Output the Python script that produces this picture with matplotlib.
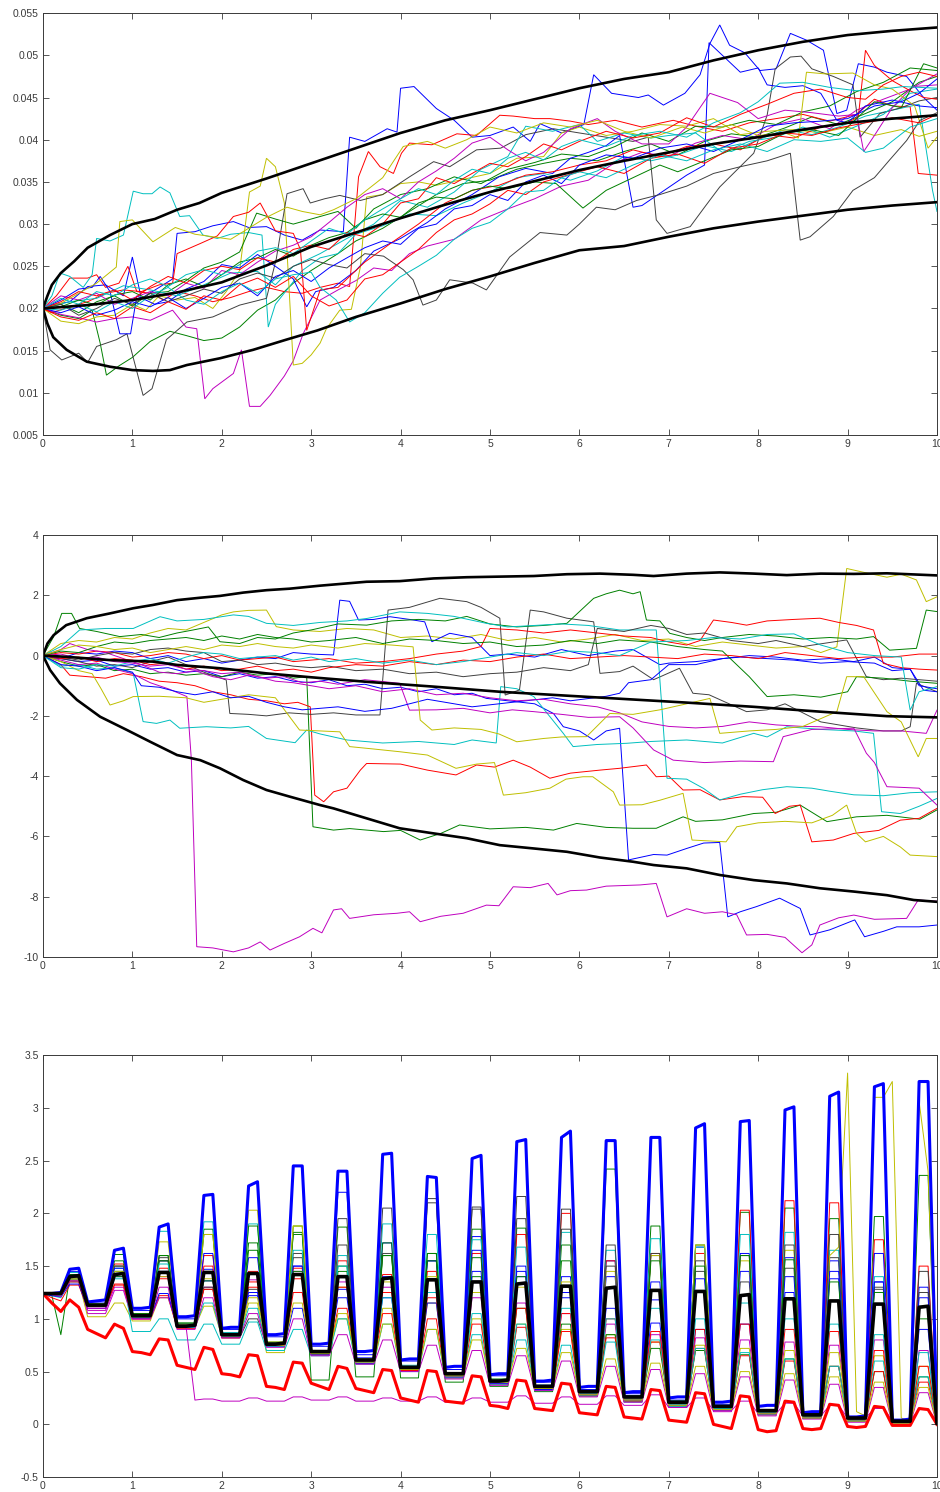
# -*- coding: utf-8 -*-
# Monte Carlo paths for three state variables, each panel with its
# envelope / mean curves drawn in bold on top of the individual runs.
import numpy as np
import matplotlib.pyplot as plt
from matplotlib.ticker import MultipleLocator, FuncFormatter

plt.rcParams['font.family'] = ['Liberation Sans', 'DejaVu Sans']
plt.rcParams['axes.unicode_minus'] = False

# old matlab line colour order
MATLAB = {'b': (0, 0, 1), 'g': (0, 0.5, 0), 'r': (1, 0, 0),
          'c': (0, 0.75, 0.75), 'm': (0.75, 0, 0.75),
          'y': (0.75, 0.75, 0), 'k': (0.25, 0.25, 0.25)}

#%% panel 1 : short rate paths, values in per mille (x 1e-3)
RATE_SCALE = 1e-3

P1_UPPER = [(0, 20.0), (0.05, 21.5), (0.1, 22.8), (0.2, 24.2), (0.35, 25.6), (0.5, 27.2), (0.75, 28.7),
            (1, 30.0), (1.25, 30.6), (1.5, 31.7), (1.75, 32.5), (2, 33.7), (2.5, 35.4), (3, 37.2),
            (3.5, 39.0), (4, 40.8), (4.5, 42.3), (5, 43.5), (5.5, 44.8), (6, 46.1), (6.5, 47.2),
            (7, 48.0), (7.5, 49.4), (8, 50.6), (8.5, 51.6), (9, 52.4), (9.5, 52.9), (10, 53.3)]
P1_MEAN = [(0, 20.0), (0.5, 20.4), (1, 21.0), (1.5, 21.9), (2, 23.1), (2.5, 25.1), (3, 27.3), (3.5, 29.0),
           (4, 30.7), (4.5, 32.3), (5, 33.8), (5.5, 35.1), (6, 36.4), (6.5, 37.5), (7, 38.5),
           (7.5, 39.5), (8, 40.3), (8.5, 41.2), (9, 42.0), (9.5, 42.5), (10, 42.9)]
P1_LOWER = [(0, 20.0), (0.05, 18.2), (0.115, 16.6), (0.265, 15.1), (0.49, 13.7), (0.75, 13.1), (1.0, 12.7),
            (1.23, 12.6), (1.42, 12.7), (1.61, 13.3), (1.98, 14.1), (2.35, 15.1), (2.72, 16.3),
            (3.07, 17.4), (3.5, 19.0), (4.0, 20.6), (4.5, 22.3), (5.0, 23.8), (5.5, 25.4), (6.0, 26.9),
            (6.5, 27.4), (7.0, 28.5), (7.5, 29.5), (8.0, 30.3), (8.5, 31.0), (9.0, 31.7), (9.5, 32.2),
            (10, 32.6)]

P1_PATHS = [
    [(0, 20), (0.1, 20.4), (0.3, 20.8), (0.5, 22.6), (0.7, 22.8), (0.9, 21.5), (1.0, 26.1), (1.1, 21.2),
     (1.3, 22.5), (1.45, 23.5), (1.5, 28.9), (1.7, 29.1), (1.9, 29.8), (2.13, 30.3), (2.3, 29.6),
     (2.5, 29.7), (2.7, 28.7), (2.9, 28.1), (3.1, 29.3), (3.36, 29.1), (3.43, 40.3), (3.6, 39.8),
     (3.85, 41.3), (3.96, 40.9), (4.0, 46.1), (4.15, 46.3), (4.4, 43.7), (4.6, 42.3), (4.8, 40.3),
     (5.0, 40.5), (5.26, 41.5), (5.45, 39.8), (5.56, 41.9), (5.8, 40.8), (6.05, 41.8), (6.16, 47.7),
     (6.36, 45.5), (6.66, 45.0), (6.77, 45.3), (6.94, 44.1), (7.18, 45.5), (7.35, 47.7), (7.46, 51.4),
     (7.57, 53.6), (7.68, 51.2), (7.85, 50.3), (8.02, 48.2), (8.2, 48.4), (8.36, 52.6), (8.54, 51.8),
     (8.73, 50.6), (8.88, 43.1), (8.99, 43.5), (9.12, 49.0), (9.3, 48.6), (9.44, 48.0), (9.66, 47.5),
     (9.85, 45.0), (10, 43.5)],
    [(0, 20), (0.2, 19.2), (0.4, 18.8), (0.55, 19.8), (0.64, 15.9), (0.71, 12.1), (0.85, 13.2), (1.0, 14.2),
     (1.2, 16.1), (1.42, 17.3), (1.6, 16.8), (1.8, 16.2), (2.0, 16.5), (2.2, 17.8), (2.4, 19.8), (2.6, 21.0),
     (2.8, 23.0), (3.0, 24.5), (3.3, 26.5), (3.5, 28.0), (3.8, 29.5), (4.1, 31.5), (4.4, 33.5), (4.7, 34.8),
     (5.0, 35.2), (5.3, 36.5), (5.6, 37.2), (5.9, 37.8), (6.2, 37.5), (6.5, 38.6), (6.8, 39.5), (7.1, 38.2),
     (7.4, 39.8), (7.7, 40.7), (8.0, 40.3), (8.3, 41.4), (8.6, 42.7), (8.9, 41.8), (9.2, 43.1), (9.5, 44.5),
     (9.8, 46.8), (10, 47.5)],
    [(0, 20), (0.15, 21.5), (0.3, 23.6), (0.5, 23.6), (0.6, 24.0), (0.7, 22.5), (0.85, 23.0), (0.95, 25.0),
     (1.05, 22.0), (1.2, 21.8), (1.35, 21.0), (1.5, 22.0), (1.7, 21.5), (1.9, 20.8), (2.1, 21.3), (2.3, 22.0),
     (2.5, 22.5), (2.7, 22.0), (2.9, 21.8), (3.1, 22.5), (3.3, 23.0), (3.43, 22.6), (3.53, 35.6),
     (3.64, 38.6), (3.77, 36.8), (3.92, 36.0), (4.01, 38.4), (4.1, 39.6), (4.35, 39.4), (4.63, 40.7),
     (4.85, 40.5), (5.11, 42.9), (5.26, 42.8), (5.5, 42.5), (5.67, 42.5), (5.9, 42.2), (6.1, 41.8),
     (6.4, 42.3), (6.7, 41.5), (7.05, 42.3), (7.3, 41.6), (7.6, 41.0), (7.9, 42.0), (8.2, 42.5), (8.5, 43.0),
     (8.8, 42.2), (9.1, 43.0), (9.3, 44.8), (9.5, 44.0), (9.7, 43.9), (9.79, 36.0), (10, 35.8)],
    [(0, 20), (0.1, 21.5), (0.19, 24.2), (0.3, 23.8), (0.45, 22.5), (0.55, 24.0), (0.6, 28.3), (0.75, 28.0),
     (0.9, 28.7), (1.01, 33.9), (1.12, 33.6), (1.22, 33.6), (1.31, 34.4), (1.42, 33.7), (1.53, 30.9),
     (1.64, 31.0), (1.79, 28.7), (1.95, 28.3), (2.1, 28.8), (2.3, 29.0), (2.45, 28.7), (2.52, 17.8),
     (2.6, 20.5), (2.75, 22.5), (2.9, 24.5), (3.1, 26.0), (3.3, 26.5), (3.5, 28.8), (3.8, 29.8), (4.1, 31.2),
     (4.4, 31.0), (4.7, 32.5), (5.0, 33.8), (5.3, 35.5), (5.6, 36.0), (5.9, 35.2), (6.2, 36.3), (6.5, 38.0),
     (6.8, 37.5), (7.1, 38.2), (7.4, 39.3), (7.7, 38.6), (8.0, 40.0), (8.3, 41.2), (8.6, 40.6), (8.9, 41.5),
     (9.2, 42.8), (9.5, 43.5), (9.8, 44.2), (9.95, 34.0), (10, 31.5)],
    [(0, 20), (0.2, 19.3), (0.4, 18.9), (0.6, 18.4), (0.8, 18.8), (1.0, 19.0), (1.2, 18.6), (1.45, 19.8),
     (1.6, 17.8), (1.72, 17.6), (1.81, 9.3), (1.9, 10.5), (2.13, 12.3), (2.22, 15.1), (2.31, 8.4),
     (2.43, 8.4), (2.54, 9.7), (2.7, 12.0), (2.8, 13.8), (2.91, 17.0), (3.1, 21.0), (3.3, 22.2), (3.5, 23.3),
     (3.7, 24.8), (3.9, 24.5), (4.1, 26.5), (4.3, 27.4), (4.6, 28.2), (4.9, 30.5), (5.2, 31.8), (5.5, 33.0),
     (5.8, 34.5), (6.1, 35.2), (6.4, 37.3), (6.7, 38.5), (7.0, 38.0), (7.3, 39.6), (7.6, 40.5), (7.9, 40.0),
     (8.2, 41.8), (8.5, 42.5), (8.8, 41.3), (9.1, 43.5), (9.4, 44.8), (9.7, 46.0), (10, 47.8)],
    [(0, 20), (0.2, 18.5), (0.4, 18.2), (0.6, 19.0), (0.8, 19.2), (1.0, 20.5), (1.15, 19.8), (1.3, 21.5),
     (1.5, 21.0), (1.7, 21.3), (1.9, 20.0), (2.05, 22.0), (2.2, 24.5), (2.31, 33.8), (2.43, 34.5),
     (2.5, 37.8), (2.6, 36.8), (2.7, 32.5), (2.8, 13.3), (2.9, 13.5), (3.0, 14.5), (3.1, 15.9), (3.17, 17.6),
     (3.32, 19.8), (3.45, 19.9), (3.55, 24.9), (3.62, 33.2), (3.8, 33.5), (4.0, 34.8), (4.2, 35.0),
     (4.4, 34.6), (4.7, 35.3), (5.0, 36.0), (5.3, 37.8), (5.6, 38.0), (5.8, 40.8), (6.0, 41.5), (6.3, 40.5),
     (6.6, 41.0), (6.9, 41.8), (7.2, 41.6), (7.5, 42.5), (7.8, 40.6), (8.1, 41.0), (8.4, 41.2), (8.7, 40.8),
     (9.0, 41.5), (9.3, 40.5), (9.6, 41.2), (9.8, 40.4), (10, 41.0)],
    [(0, 20), (0.08, 15.1), (0.21, 13.9), (0.4, 14.7), (0.5, 13.6), (0.6, 15.5), (0.82, 16.3), (0.94, 17.0),
     (1.12, 9.7), (1.22, 10.5), (1.38, 16.3), (1.61, 18.4), (1.9, 19.0), (2.2, 20.4), (2.5, 21.2),
     (2.61, 25.9), (2.73, 33.6), (2.91, 34.2), (2.99, 32.5), (3.15, 33.0), (3.32, 33.4), (3.55, 32.8),
     (3.8, 33.5), (4.1, 35.6), (4.37, 37.4), (4.55, 36.8), (4.85, 38.8), (5.12, 39.0), (5.4, 40.6),
     (5.71, 41.3), (6.0, 40.8), (6.3, 40.3), (6.6, 39.8), (6.77, 40.3), (6.86, 30.5), (6.98, 28.9),
     (7.24, 29.7), (7.4, 32.0), (7.57, 34.4), (7.95, 38.4), (8.1, 42.9), (8.19, 48.4), (8.36, 49.8),
     (8.48, 49.9), (8.6, 48.4), (8.84, 47.5), (9.06, 46.5), (9.14, 40.3), (9.36, 43.1), (9.6, 43.8),
     (9.8, 44.6), (10, 45.0)],
    [(0, 20), (0.2, 21.0), (0.4, 22.3), (0.55, 22.5), (0.64, 23.8), (0.75, 22.0), (0.86, 17.0), (0.98, 17.0),
     (1.05, 21.5), (1.25, 20.5), (1.4, 20.8), (1.6, 22.3), (1.8, 23.2), (2.0, 25.2), (2.2, 24.8), (2.4, 26.4),
     (2.6, 25.0), (2.8, 23.5), (2.95, 20.2), (3.05, 22.0), (3.25, 22.5), (3.5, 24.5), (3.7, 26.8),
     (4.0, 28.3), (4.3, 30.2), (4.5, 31.8), (4.8, 33.5), (5.1, 35.6), (5.4, 36.6), (5.7, 36.0), (5.9, 37.8),
     (6.1, 38.5), (6.3, 39.3), (6.45, 40.5), (6.6, 32.0), (6.7, 32.2), (6.95, 34.0), (7.2, 35.8),
     (7.4, 37.0), (7.45, 51.5), (7.6, 50.0), (7.8, 48.0), (8.0, 48.5), (8.1, 46.5), (8.3, 46.2),
     (8.5, 46.4), (8.7, 45.5), (8.88, 42.3), (9.0, 42.0), (9.2, 44.0), (9.5, 44.7), (9.8, 44.0),
     (10, 43.8)],
    [(0, 20), (0.2, 20.5), (0.4, 19.5), (0.6, 20.8), (0.8, 21.5), (1.0, 20.3), (1.2, 21.8), (1.4, 22.0),
     (1.6, 23.3), (1.8, 24.8), (2.0, 25.5), (2.2, 26.7), (2.39, 31.3), (2.6, 30.6), (2.8, 30.0), (3.1, 30.9),
     (3.3, 31.5), (3.5, 29.5), (3.7, 31.8), (4.0, 33.5), (4.3, 34.2), (4.6, 35.6), (4.9, 34.8), (5.2, 36.5),
     (5.5, 37.3), (5.8, 38.3), (6.1, 38.0), (6.4, 39.2), (6.7, 40.8), (7.0, 39.8), (7.3, 41.6), (7.6, 41.5),
     (7.9, 42.3), (8.2, 41.8), (8.5, 43.3), (8.8, 44.0), (9.1, 45.7), (9.4, 46.8), (9.7, 48.5),
     (10, 48.2)],
    [(0, 20), (0.1, 19.5), (0.3, 20.2), (0.5, 20.8), (0.7, 21.8), (0.9, 22.2), (1.1, 22.0), (1.3, 22.8),
     (1.45, 23.0), (1.5, 26.5), (1.76, 27.7), (1.95, 28.6), (2.13, 30.9), (2.3, 31.4), (2.43, 32.5),
     (2.6, 29.2), (2.8, 28.9), (2.88, 27.0), (2.95, 17.4), (3.1, 22.2), (3.3, 22.5), (3.6, 25.5),
     (3.9, 27.8), (4.2, 30.0), (4.5, 32.5), (4.8, 34.0), (5.1, 34.6), (5.4, 35.8), (5.7, 36.2), (6.0, 37.0),
     (6.3, 37.5), (6.6, 38.8), (6.9, 38.0), (7.2, 39.2), (7.5, 39.5), (7.8, 38.8), (8.1, 40.6), (8.4, 40.2),
     (8.7, 41.5), (9.0, 42.0), (9.12, 42.7), (9.2, 50.6), (9.3, 48.8), (9.5, 47.0), (9.7, 45.8),
     (9.85, 45.0), (10, 44.8)],
    [(0, 20), (0.3, 20.8), (0.6, 21.2), (0.9, 22.7), (1.2, 22.2), (1.5, 21.5), (1.8, 22.8), (2.1, 24.2),
     (2.4, 24.4), (2.6, 22.8), (2.8, 25.0), (3.1, 26.5), (3.4, 28.3), (3.7, 30.0), (4.0, 32.8), (4.3, 32.0),
     (4.6, 33.8), (4.9, 36.5), (5.2, 38.0), (5.4, 41.6), (5.7, 41.0), (6.0, 41.8), (6.2, 39.8), (6.5, 40.8),
     (6.8, 40.2), (7.0, 40.5), (7.3, 40.8), (7.6, 38.5), (7.9, 39.8), (8.2, 40.3), (8.5, 41.5), (8.8, 40.3),
     (9.1, 41.6), (9.4, 43.0), (9.7, 45.5), (10, 46.0)],
    [(0, 20), (0.2, 21.5), (0.4, 21.0), (0.6, 21.8), (0.8, 20.5), (1.0, 21.2), (1.2, 22.0), (1.4, 21.5),
     (1.6, 23.0), (1.8, 22.4), (2.0, 24.5), (2.2, 24.0), (2.4, 25.5), (2.6, 26.8), (2.8, 27.5), (3.0, 28.5),
     (3.2, 30.2), (3.4, 32.0), (3.6, 33.5), (3.8, 34.2), (4.0, 33.0), (4.2, 35.0), (4.4, 36.3), (4.6, 37.8),
     (4.8, 39.6), (5.0, 40.3), (5.2, 38.8), (5.4, 37.5), (5.6, 38.5), (5.9, 41.3), (6.2, 42.5), (6.4, 41.0),
     (6.7, 39.5), (7.0, 39.5), (7.2, 41.5), (7.46, 45.5), (7.77, 44.4), (8.0, 42.5), (8.3, 43.5),
     (8.6, 43.2), (8.9, 42.8), (9.1, 43.0), (9.18, 38.6), (9.3, 40.5), (9.5, 43.8), (9.73, 46.3),
     (10, 46.5)],
    [(0, 20), (0.2, 20.6), (0.4, 21.8), (0.6, 23.0), (0.82, 24.9), (0.86, 30.3), (1.0, 30.5), (1.23, 27.9),
     (1.48, 29.6), (1.7, 28.8), (1.9, 28.5), (2.1, 28.2), (2.3, 29.5), (2.5, 30.8), (2.73, 32.0), (2.9, 31.5),
     (3.1, 31.1), (3.25, 31.7), (3.5, 33.0), (3.8, 35.5), (4.03, 39.2), (4.3, 39.8), (4.5, 39.0),
     (4.74, 40.0), (5.0, 41.5), (5.3, 40.8), (5.6, 42.0), (5.9, 41.5), (6.2, 42.3), (6.5, 41.0), (6.8, 40.2),
     (7.15, 41.5), (7.4, 40.8), (7.7, 41.8), (8.0, 40.5), (8.3, 40.8), (8.45, 40.2), (8.54, 48.0),
     (8.75, 47.8), (9.06, 47.9), (9.3, 46.5), (9.5, 46.0), (9.75, 44.0), (9.9, 39.0), (10, 40.3)],
    [(0, 20), (0.2, 20.5), (0.4, 19.2), (0.6, 20.0), (0.8, 21.2), (1.0, 20.5), (1.2, 21.8), (1.4, 20.8),
     (1.6, 21.5), (1.8, 22.3), (2.0, 21.8), (2.2, 23.5), (2.4, 24.2), (2.6, 23.6), (2.8, 25.0), (3.0, 25.8),
     (3.2, 25.2), (3.4, 24.8), (3.6, 26.5), (3.81, 26.2), (4.03, 24.6), (4.14, 23.4), (4.25, 20.4),
     (4.4, 21.0), (4.55, 23.4), (4.81, 23.0), (4.96, 22.2), (5.22, 26.1), (5.56, 29.0), (5.86, 28.7),
     (6.0, 30.0), (6.19, 32.0), (6.4, 31.7), (6.64, 32.8), (6.9, 33.5), (7.2, 34.5), (7.5, 36.0),
     (7.8, 36.8), (8.1, 37.5), (8.36, 38.4), (8.47, 28.1), (8.58, 28.5), (8.84, 30.9), (9.06, 34.0),
     (9.3, 35.5), (9.47, 37.6), (9.66, 39.9), (9.81, 42.3), (10, 43.2)],
    [(0, 20), (0.2, 19.5), (0.4, 20.2), (0.6, 19.2), (0.8, 19.8), (1.0, 20.8), (1.2, 20.2), (1.4, 21.3),
     (1.6, 20.0), (1.8, 21.2), (2.0, 22.5), (2.2, 23.0), (2.4, 21.5), (2.6, 23.8), (2.8, 24.5), (3.0, 23.2),
     (3.2, 24.8), (3.4, 26.0), (3.6, 27.2), (3.8, 28.0), (4.0, 27.6), (4.2, 29.5), (4.4, 30.0), (4.6, 31.8),
     (4.8, 32.2), (5.0, 33.5), (5.2, 32.8), (5.4, 35.0), (5.6, 35.8), (5.8, 34.8), (6.0, 37.0), (6.3, 38.2),
     (6.6, 37.8), (6.9, 39.0), (7.2, 39.5), (7.5, 38.6), (7.8, 40.0), (8.1, 41.6), (8.4, 42.0), (8.7, 42.2),
     (9.0, 42.5), (9.3, 44.0), (9.6, 44.5), (9.8, 45.5), (10, 47.2)],
    [(0, 20), (0.2, 20.2), (0.4, 21.0), (0.6, 20.4), (0.8, 21.6), (1.0, 22.0), (1.2, 21.0), (1.4, 22.8),
     (1.6, 23.5), (1.8, 22.6), (2.0, 24.0), (2.2, 25.5), (2.4, 26.0), (2.6, 27.0), (2.8, 26.2), (3.0, 27.5),
     (3.2, 28.4), (3.4, 29.0), (3.6, 30.5), (3.8, 31.2), (4.0, 30.8), (4.2, 32.5), (4.4, 33.2), (4.6, 33.0),
     (4.8, 34.0), (5.0, 34.5), (5.2, 34.2), (5.5, 35.0), (5.74, 34.8), (6.04, 31.9), (6.3, 34.0),
     (6.6, 35.5), (6.9, 37.0), (7.1, 36.2), (7.4, 37.5), (7.7, 38.8), (8.0, 39.2), (8.3, 40.8), (8.6, 41.2),
     (8.9, 40.5), (9.1, 42.5), (9.3, 44.5), (9.6, 43.8), (9.85, 49.0), (10, 48.5)],
    [(0, 20), (0.2, 19.0), (0.4, 18.6), (0.6, 19.5), (0.8, 18.8), (1.0, 20.2), (1.2, 19.5), (1.4, 20.8),
     (1.6, 19.9), (1.8, 21.5), (2.0, 21.0), (2.2, 22.8), (2.4, 23.6), (2.6, 22.5), (2.8, 23.8), (3.0, 21.5),
     (3.2, 20.3), (3.4, 21.0), (3.6, 23.5), (3.8, 24.0), (4.0, 25.5), (4.2, 27.0), (4.4, 29.0), (4.6, 30.5),
     (4.8, 31.2), (5.0, 32.4), (5.2, 34.0), (5.4, 33.5), (5.6, 35.0), (5.8, 35.6), (6.0, 36.2), (6.2, 36.8),
     (6.5, 36.0), (6.8, 37.8), (7.1, 38.3), (7.4, 37.2), (7.7, 39.0), (8.0, 39.5), (8.3, 40.8), (8.6, 40.5),
     (8.9, 41.4), (9.2, 42.0), (9.5, 42.6), (9.8, 42.0), (10, 43.0)],
    [(0, 20), (0.2, 19.8), (0.4, 20.5), (0.6, 19.6), (0.8, 20.8), (1.0, 20.0), (1.2, 21.5), (1.4, 22.5),
     (1.6, 21.0), (1.8, 20.5), (2.0, 22.0), (2.2, 23.0), (2.4, 21.8), (2.6, 23.5), (2.8, 24.0), (3.0, 24.3),
     (3.1, 22.5), (3.28, 21.0), (3.43, 18.4), (3.6, 19.5), (3.8, 21.8), (3.99, 23.7), (4.2, 25.0),
     (4.4, 26.3), (4.6, 28.2), (4.8, 29.5), (5.0, 30.2), (5.2, 31.8), (5.4, 33.8), (5.6, 34.0), (5.8, 35.5),
     (6.0, 36.2), (6.3, 35.5), (6.6, 37.0), (6.9, 38.2), (7.2, 37.5), (7.5, 38.8), (7.8, 39.5), (8.1, 38.6),
     (8.4, 40.0), (8.7, 39.8), (9.0, 40.2), (9.2, 38.5), (9.4, 39.0), (9.7, 41.5), (10, 42.5)],
    [(0, 20), (0.2, 20.8), (0.4, 22.0), (0.6, 21.5), (0.8, 22.2), (1.0, 21.0), (1.2, 22.6), (1.4, 23.8),
     (1.6, 23.0), (1.8, 24.5), (2.0, 25.0), (2.2, 24.6), (2.4, 26.0), (2.6, 25.5), (2.8, 27.0), (3.0, 27.5),
     (3.2, 27.0), (3.4, 29.0), (3.6, 28.5), (3.8, 30.0), (4.0, 32.5), (4.2, 33.0), (4.4, 35.5), (4.6, 34.8),
     (4.8, 36.0), (5.0, 37.2), (5.2, 36.8), (5.4, 38.0), (5.6, 39.5), (5.8, 38.8), (6.0, 39.8), (6.3, 41.0),
     (6.6, 40.2), (6.9, 40.8), (7.2, 42.6), (7.5, 41.5), (7.8, 43.0), (8.1, 44.2), (8.4, 45.5), (8.7, 46.0),
     (9.0, 45.0), (9.2, 44.8), (9.4, 46.5), (9.6, 47.5), (9.8, 48.0), (10, 47.5)],
    [(0, 20), (0.2, 21.2), (0.4, 20.5), (0.6, 22.0), (0.8, 21.5), (1.0, 22.8), (1.2, 23.5), (1.4, 22.6),
     (1.6, 24.0), (1.8, 24.6), (2.0, 24.0), (2.2, 25.2), (2.4, 26.8), (2.6, 27.2), (2.8, 26.5), (3.0, 28.0),
     (3.2, 29.5), (3.4, 28.8), (3.6, 30.5), (3.8, 31.8), (4.0, 33.0), (4.2, 34.2), (4.4, 33.5), (4.6, 35.2),
     (4.8, 36.5), (5.0, 36.0), (5.2, 37.8), (5.4, 38.5), (5.6, 37.6), (5.8, 39.2), (6.0, 40.0), (6.3, 39.2),
     (6.6, 40.5), (6.9, 41.0), (7.2, 40.3), (7.5, 42.0), (7.8, 43.2), (8.0, 44.5), (8.24, 46.7),
     (8.5, 46.8), (8.8, 46.2), (9.1, 45.8), (9.4, 46.0), (9.62, 46.3), (10, 46.1)],
]
P1_COLORS = ['b', 'g', 'r', 'c', 'm', 'y', 'k', 'b', 'g', 'r',
             'c', 'm', 'y', 'k', 'b', 'g', 'r', 'c', 'r', 'c']

#%% panel 2 : log-price paths with jumps
P2_UPPER = [(0, 0), (0.05, 0.4), (0.12, 0.68), (0.26, 1.01), (0.49, 1.24), (0.75, 1.40), (1.01, 1.57),
            (1.23, 1.68), (1.5, 1.84), (1.76, 1.92), (1.98, 1.98), (2.24, 2.09), (2.5, 2.17), (2.76, 2.22),
            (3.1, 2.32), (3.62, 2.45), (3.99, 2.47), (4.37, 2.56), (4.74, 2.6), (5.11, 2.62), (5.49, 2.64),
            (5.86, 2.7), (6.23, 2.72), (6.6, 2.68), (6.83, 2.64), (7.2, 2.72), (7.57, 2.76), (7.95, 2.72),
            (8.32, 2.67), (8.7, 2.72), (9.07, 2.71), (9.44, 2.73), (10, 2.66)]
P2_MEAN = [(0, 0), (0.26, -0.04), (0.75, -0.15), (1.23, -0.2), (1.5, -0.31), (1.98, -0.42), (2.5, -0.59),
           (3.0, -0.72), (3.62, -0.87), (4.37, -1.03), (5.11, -1.2), (5.86, -1.33), (6.5, -1.44),
           (7.2, -1.56), (7.95, -1.7), (8.69, -1.86), (9.44, -2.01), (10, -2.05)]
P2_LOWER = [(0, 0), (0.08, -0.48), (0.19, -0.92), (0.38, -1.47), (0.64, -2.03), (0.94, -2.47), (1.2, -2.86),
            (1.5, -3.3), (1.76, -3.47), (1.98, -3.74), (2.24, -4.13), (2.5, -4.46), (2.76, -4.68),
            (3.1, -4.96), (3.25, -5.07), (3.62, -5.4), (3.99, -5.73), (4.37, -5.9), (4.74, -6.06),
            (5.11, -6.29), (5.49, -6.4), (5.86, -6.51), (6.23, -6.7), (6.6, -6.84), (6.83, -6.95),
            (7.2, -7.06), (7.57, -7.28), (7.95, -7.45), (8.32, -7.56), (8.69, -7.72), (9.07, -7.83),
            (9.44, -7.95), (9.74, -8.11), (10, -8.17)]

P2_PATHS = [
    [(0, 0), (0.2, -0.1), (0.4, -0.2), (0.6, -0.15), (0.8, -0.35), (1.0, -0.3), (1.2, -0.45), (1.4, -0.4),
     (1.6, -0.55), (1.8, -0.5), (2.0, -0.7), (2.2, -0.6), (2.4, -0.75), (2.6, -0.7), (2.8, -0.85),
     (3.0, -0.9), (3.2, -0.8), (3.4, -1.0), (3.6, -0.95), (3.8, -1.1), (4.0, -1.05), (4.2, -1.2),
     (4.4, -1.1), (4.6, -1.3), (4.8, -1.25), (4.96, -1.42), (5.2, -1.5), (5.5, -1.6), (5.71, -1.92),
     (5.82, -2.36), (6.0, -2.5), (6.16, -2.8), (6.3, -2.5), (6.45, -2.41), (6.55, -6.78), (6.83, -6.6),
     (6.98, -6.62), (7.2, -6.4), (7.39, -6.22), (7.57, -6.2), (7.66, -8.67), (7.8, -8.5), (7.98, -8.33),
     (8.24, -8.05), (8.47, -8.39), (8.58, -9.27), (8.8, -9.1), (9.08, -8.77), (9.19, -9.33),
     (9.4, -9.15), (9.55, -9.0), (9.8, -9.0), (10, -8.94)],
    [(0, 0), (0.2, -0.2), (0.4, -0.35), (0.6, -0.3), (0.8, -0.5), (1.0, -0.45), (1.2, -0.6), (1.4, -0.55),
     (1.6, -0.65), (1.8, -0.6), (2.0, -0.7), (2.2, -0.55), (2.4, -0.65), (2.6, -0.6), (2.8, -0.75),
     (2.95, -0.7), (3.02, -5.68), (3.25, -5.79), (3.43, -5.74), (3.81, -5.84), (4.0, -5.8),
     (4.22, -6.12), (4.45, -5.9), (4.66, -5.62), (5.0, -5.75), (5.4, -5.7), (5.71, -5.79), (5.97, -5.57),
     (6.3, -5.7), (6.6, -5.73), (6.86, -5.73), (7.16, -5.35), (7.3, -5.5), (7.6, -5.45), (7.95, -5.24),
     (8.2, -5.2), (8.47, -4.96), (8.77, -5.51), (9.1, -5.35), (9.44, -5.3), (9.81, -5.43), (10, -5.12)],
    [(0, 0), (0.2, -0.3), (0.3, -0.65), (0.5, -0.7), (0.7, -0.75), (0.9, -0.6), (1.1, -0.7), (1.3, -0.85),
     (1.5, -0.9), (1.7, -1.0), (1.9, -1.2), (2.1, -1.3), (2.3, -1.45), (2.5, -1.5), (2.7, -1.6),
     (2.85, -1.55), (2.99, -1.7), (3.04, -4.63), (3.14, -4.85), (3.25, -4.52), (3.4, -4.4),
     (3.55, -3.8), (3.62, -3.58), (4.0, -3.6), (4.3, -3.8), (4.62, -3.96), (4.85, -3.63), (5.05, -3.7),
     (5.26, -3.47), (5.45, -3.7), (5.67, -4.07), (5.9, -3.9), (6.23, -3.8), (6.45, -3.74), (6.75, -3.63),
     (6.86, -4.02), (7.0, -4.0), (7.16, -4.46), (7.35, -4.45), (7.57, -4.79), (7.83, -4.68),
     (8.05, -4.7), (8.19, -5.24), (8.35, -5.0), (8.47, -4.96), (8.6, -6.18), (8.84, -6.12), (9.07, -5.9),
     (9.35, -5.8), (9.59, -5.46), (9.8, -5.4), (10, -5.07)],
    [(0, 0), (0.2, -0.35), (0.4, -0.3), (0.6, -0.45), (0.8, -0.4), (1.01, -0.59), (1.12, -2.19),
     (1.27, -2.25), (1.42, -2.14), (1.53, -2.41), (1.83, -2.36), (2.1, -2.4), (2.3, -2.35), (2.5, -2.75),
     (2.82, -2.89), (2.95, -2.47), (3.1, -2.6), (3.4, -2.8), (3.8, -2.9), (4.2, -2.85), (4.6, -2.95),
     (4.8, -2.8), (5.07, -2.9), (5.12, -1.03), (5.3, -1.1), (5.49, -1.36), (5.82, -2.58), (5.93, -3.02),
     (6.2, -2.95), (6.53, -2.91), (6.8, -2.85), (7.2, -2.8), (7.6, -2.9), (7.95, -2.58), (8.1, -2.7),
     (8.32, -2.36), (8.7, -2.45), (9.07, -2.5), (9.29, -2.58), (9.38, -5.18), (9.59, -5.24),
     (9.8, -5.0), (10, -4.74)],
    [(0, 0), (0.2, -0.15), (0.4, -0.3), (0.6, -0.25), (0.8, -0.45), (1.0, -0.6), (1.2, -0.9), (1.4, -1.1),
     (1.61, -1.36), (1.66, -3.46), (1.72, -9.66), (1.9, -9.7), (2.13, -9.83), (2.3, -9.7), (2.43, -9.5),
     (2.54, -9.77), (2.7, -9.55), (2.87, -9.33), (3.02, -9.05), (3.12, -9.2), (3.25, -8.44),
     (3.34, -8.4), (3.43, -8.72), (3.7, -8.6), (3.96, -8.55), (4.1, -8.5), (4.22, -8.83), (4.45, -8.65),
     (4.7, -8.55), (4.96, -8.28), (5.1, -8.3), (5.26, -7.67), (5.45, -7.7), (5.65, -7.56), (5.75, -7.94),
     (5.9, -7.8), (6.08, -7.78), (6.3, -7.65), (6.68, -7.61), (6.86, -7.56), (6.98, -8.67), (7.2, -8.4),
     (7.4, -8.55), (7.6, -8.5), (7.76, -8.6), (7.87, -9.27), (8.1, -9.25), (8.3, -9.35), (8.49, -9.86),
     (8.6, -9.6), (8.69, -8.94), (8.9, -8.7), (9.07, -8.61), (9.3, -8.75), (9.66, -8.72), (9.79, -8.11),
     (10, -8.15)],
    [(0, 0), (0.2, 0.4), (0.4, 0.5), (0.6, 0.45), (0.8, 0.6), (1.0, 0.55), (1.2, 0.75), (1.4, 0.9),
     (1.6, 0.85), (1.8, 1.1), (2.0, 1.35), (2.13, 1.45), (2.3, 1.5), (2.5, 1.51), (2.61, 0.96),
     (2.8, 0.85), (3.1, 0.8), (3.4, 0.9), (3.7, 0.85), (4.0, 0.6), (4.3, 0.65), (4.6, 0.55), (4.9, 0.7),
     (5.2, 0.5), (5.5, 0.6), (5.8, 0.45), (6.1, 0.55), (6.4, 0.7), (6.7, 0.5), (7.0, 0.55), (7.3, 0.3),
     (7.6, 0.45), (7.9, 0.35), (8.2, 0.25), (8.5, 0.3), (8.7, 0.1), (8.88, 0.29), (8.99, 2.89),
     (9.2, 2.75), (9.44, 2.6), (9.6, 2.7), (9.77, 2.51), (9.88, 1.79), (10, 1.95)],
    [(0, 0), (0.2, -0.1), (0.4, -0.2), (0.6, -0.35), (0.8, -0.3), (1.0, -0.4), (1.2, -0.2), (1.4, -0.05),
     (1.6, -0.3), (1.8, -0.55), (2.05, -0.81), (2.09, -1.92), (2.3, -1.95), (2.5, -2.0), (2.75, -1.9),
     (3.0, -1.95), (3.25, -1.9), (3.5, -1.97), (3.77, -1.97), (3.86, 1.51), (4.1, 1.6), (4.44, 1.9),
     (4.74, 1.79), (4.9, 1.6), (5.11, 1.24), (5.17, -1.31), (5.33, -1.14), (5.45, 1.51), (5.6, 1.45),
     (5.86, 1.24), (6.16, 1.12), (6.23, -0.59), (6.45, -0.53), (6.6, -0.35), (6.83, -0.8), (7.12, -0.42),
     (7.27, -1.25), (7.45, -1.3), (7.6, -1.5), (7.87, -1.86), (8.1, -1.8), (8.3, -1.6), (8.5, -1.9),
     (8.7, -2.2), (8.9, -2.3), (9.1, -2.4), (9.4, -2.5), (9.6, -2.5), (9.7, -2.36), (9.77, -0.92),
     (10, -1.2)],
    [(0, 0), (0.2, -0.1), (0.4, 0.1), (0.6, 0.05), (0.8, 0.15), (1.0, 0.1), (1.2, -0.1), (1.4, 0.0),
     (1.6, -0.2), (1.8, -0.1), (2.0, -0.25), (2.2, -0.15), (2.4, -0.05), (2.6, -0.1), (2.8, 0.1),
     (3.0, 0.05), (3.25, 0.02), (3.32, 1.84), (3.43, 1.8), (3.53, 1.18), (3.7, 1.2), (3.88, 1.29),
     (4.1, 1.2), (4.27, 1.12), (4.35, 0.46), (4.55, 0.74), (4.8, 0.6), (5.0, 0.0), (5.2, 0.05),
     (5.5, -0.05), (5.8, 0.2), (6.1, 0.0), (6.4, 0.15), (6.6, 0.2), (6.9, -0.3), (7.0, -0.25), (7.3, -0.2),
     (7.6, -0.1), (7.9, 0.0), (8.2, -0.05), (8.5, -0.15), (8.8, -0.1), (9.07, -0.2), (9.3, -0.05),
     (9.5, -0.4), (9.7, -0.45), (9.8, -1.0), (10, -1.1)],
    [(0, 0), (0.12, 0.63), (0.21, 1.4), (0.32, 1.4), (0.41, 0.9), (0.6, 0.8), (0.86, 0.63), (1.1, 0.7),
     (1.3, 0.6), (1.5, 0.75), (1.68, 0.85), (1.85, 0.95), (1.98, 0.46), (2.2, 0.4), (2.4, 0.6), (2.6, 0.55),
     (2.8, 0.75), (3.0, 0.85), (3.3, 1.05), (3.62, 1.01), (3.9, 1.15), (4.2, 1.2), (4.5, 1.15),
     (4.74, 1.3), (5.0, 1.05), (5.3, 0.95), (5.6, 1.0), (5.86, 1.07), (6.16, 1.9), (6.3, 2.05),
     (6.45, 2.17), (6.6, 2.05), (6.68, 2.12), (6.75, 1.18), (6.9, 1.15), (7.01, 0.74), (7.2, 0.6),
     (7.4, 0.5), (7.6, 0.6), (7.9, 0.7), (8.2, 0.65), (8.5, 0.55), (8.8, 0.6), (9.1, 0.55), (9.29, 0.63),
     (9.47, 0.18), (9.77, 0.24), (9.88, 1.51), (10, 1.46)],
    [(0, 0), (0.2, 0.1), (0.4, 0.05), (0.6, 0.15), (0.8, 0.1), (1.0, -0.05), (1.2, 0.0), (1.4, 0.1),
     (1.6, 0.05), (1.8, -0.1), (2.0, 0.0), (2.2, -0.15), (2.4, -0.1), (2.6, -0.05), (2.8, -0.2),
     (3.0, -0.15), (3.2, -0.1), (3.5, -0.25), (3.8, -0.2), (4.1, -0.1), (4.4, 0.05), (4.7, 0.15),
     (4.9, 0.3), (5.0, 0.9), (5.3, 0.85), (5.6, 0.75), (5.9, 0.85), (6.2, 0.75), (6.5, 0.65), (6.8, 0.6),
     (7.0, 0.45), (7.2, 0.35), (7.35, 0.5), (7.5, 1.18), (7.7, 1.1), (7.87, 1.01), (8.1, 1.15),
     (8.4, 1.2), (8.69, 1.24), (8.9, 1.1), (9.1, 1.0), (9.29, 0.85), (9.4, -0.26), (9.6, -0.4),
     (9.8, -0.45), (10, -0.48)],
    [(0, 0), (0.2, 0.3), (0.41, 0.85), (0.7, 0.9), (1.01, 0.9), (1.31, 1.29), (1.5, 1.15), (1.8, 1.2),
     (2.13, 1.35), (2.3, 1.3), (2.5, 1.07), (2.8, 1.0), (3.1, 1.1), (3.4, 1.15), (3.62, 1.23), (3.99, 1.45),
     (4.3, 1.4), (4.6, 1.3), (4.96, 1.07), (5.2, 0.95), (5.5, 1.0), (5.8, 1.05), (6.1, 1.0), (6.45, 0.85),
     (6.86, 0.85), (6.98, -4.07), (7.2, -4.1), (7.39, -4.41), (7.57, -4.79), (7.8, -4.6), (8.05, -4.45),
     (8.32, -4.35), (8.6, -4.4), (8.8, -4.5), (9.07, -4.62), (9.4, -4.65), (9.7, -4.55), (10, -4.52)],
    [(0, 0), (0.2, 0.2), (0.3, 0.4), (0.5, 0.2), (0.7, 0.1), (0.9, -0.1), (1.1, -0.3), (1.3, -0.55),
     (1.5, -0.6), (1.7, -0.5), (1.9, -0.7), (2.1, -0.8), (2.3, -0.65), (2.5, -0.75), (2.7, -0.7),
     (2.9, -0.9), (3.1, -0.85), (3.3, -0.95), (3.6, -0.8), (3.99, -0.92), (4.1, -1.81), (4.4, -1.8),
     (4.7, -1.75), (5.0, -1.9), (5.25, -1.8), (5.49, -1.86), (5.8, -1.95), (6.1, -2.05), (6.45, -2.03),
     (6.6, -2.4), (6.83, -3.13), (7.05, -3.47), (7.4, -3.55), (7.8, -3.5), (8.17, -3.52), (8.28, -2.69),
     (8.6, -2.45), (9.07, -2.41), (9.21, -3.24), (9.3, -3.55), (9.44, -4.35), (9.8, -4.4), (10, -4.96)],
    [(0, 0), (0.2, -0.2), (0.4, -0.5), (0.55, -0.6), (0.65, -1.1), (0.75, -1.64), (0.9, -1.5),
     (1.01, -1.36), (1.3, -1.35), (1.6, -1.4), (1.8, -1.55), (2.0, -1.45), (2.3, -1.3), (2.6, -1.4),
     (2.87, -2.47), (3.1, -2.5), (3.32, -2.53), (3.43, -3.02), (3.7, -3.1), (3.99, -3.19), (4.3, -3.3),
     (4.62, -3.74), (4.85, -3.6), (5.05, -3.55), (5.15, -4.63), (5.4, -4.55), (5.67, -4.4), (5.85, -4.1),
     (6.04, -4.02), (6.15, -4.02), (6.38, -4.52), (6.45, -4.96), (6.7, -4.95), (6.9, -4.8),
     (7.16, -4.57), (7.26, -6.12), (7.64, -6.18), (7.76, -5.68), (8.0, -5.55), (8.3, -5.5),
     (8.6, -5.55), (8.83, -5.3), (8.99, -4.96), (9.1, -5.9), (9.2, -6.18), (9.4, -6.0), (9.59, -6.35),
     (9.7, -6.62), (10, -6.67)],
    [(0, 0), (0.2, -0.05), (0.4, -0.15), (0.6, 0.0), (0.8, 0.1), (1.0, 0.05), (1.2, 0.2), (1.4, 0.25),
     (1.6, 0.15), (1.8, 0.1), (2.0, -0.2), (2.2, -0.15), (2.4, -0.3), (2.6, -0.25), (2.8, -0.35),
     (3.0, -0.4), (3.2, -0.35), (3.5, -0.5), (3.8, -0.45), (4.1, -0.6), (4.4, -0.55), (4.7, -0.7),
     (5.0, -0.6), (5.3, -0.55), (5.6, -0.4), (5.9, -0.5), (6.1, -0.3), (6.2, 0.9), (6.5, 0.8), (6.8, 1.0),
     (7.0, 0.9), (7.2, 0.7), (7.4, 0.75), (7.7, 0.5), (8.0, 0.4), (8.2, 0.5), (8.5, 0.3), (8.99, 0.52),
     (9.21, -0.7), (9.4, -0.8), (9.6, -0.75), (9.8, -0.8), (10, -0.85)],
    [(0, 0), (0.2, -0.3), (0.4, -0.35), (0.6, -0.5), (0.8, -0.4), (1.0, -0.55), (1.1, -1.0), (1.3, -1.05),
     (1.5, -1.2), (1.7, -1.3), (1.9, -1.2), (2.1, -1.4), (2.3, -1.35), (2.5, -1.55), (2.7, -1.7),
     (2.9, -1.8), (3.1, -1.75), (3.3, -1.7), (3.6, -1.85), (3.9, -1.75), (4.1, -1.6), (4.3, -1.45),
     (4.5, -1.55), (4.8, -1.7), (5.1, -1.6), (5.4, -1.5), (5.7, -1.4), (5.9, -1.5), (6.3, -1.35),
     (6.45, -1.25), (6.55, -0.9), (6.8, -0.8), (7.0, -0.3), (7.3, -0.3), (7.6, -0.1), (7.8, -0.05),
     (8.1, -0.1), (8.4, -0.15), (8.7, -0.25), (9.0, -0.2), (9.3, -0.25), (9.5, -0.5), (9.7, -0.45),
     (9.85, -1.15), (10, -1.2)],
    [(0, 0), (0.2, 0.15), (0.4, 0.1), (0.6, 0.3), (0.8, 0.45), (1.0, 0.4), (1.2, 0.5), (1.4, 0.55),
     (1.6, 0.6), (1.8, 0.5), (2.0, 0.65), (2.2, 0.55), (2.4, 0.7), (2.6, 0.6), (2.8, 0.55), (3.0, 0.45),
     (3.2, 0.5), (3.5, 0.6), (3.8, 0.4), (4.1, 0.55), (4.4, 0.5), (4.7, 0.4), (5.0, 0.45), (5.3, 0.3),
     (5.6, 0.35), (5.9, 0.5), (6.2, 0.4), (6.45, 0.52), (6.8, 0.45), (7.1, 0.3), (7.4, 0.2), (7.6, 0.15),
     (7.9, -0.7), (8.1, -1.36), (8.4, -1.3), (8.7, -1.38), (9.0, -1.2), (9.1, -0.7), (9.4, -0.75),
     (9.7, -0.85), (10, -0.92)],
    [(0, 0), (0.2, -0.1), (0.4, -0.05), (0.6, -0.2), (0.8, -0.1), (1.0, -0.15), (1.2, -0.3), (1.4, -0.25),
     (1.6, -0.45), (1.8, -0.35), (2.0, -0.5), (2.2, -0.45), (2.4, -0.35), (2.6, -0.5), (2.8, -0.45),
     (3.0, -0.55), (3.2, -0.4), (3.5, -0.3), (3.8, -0.35), (4.1, -0.2), (4.4, -0.3), (4.7, -0.15),
     (5.0, -0.2), (5.3, -0.05), (5.6, 0.05), (5.9, -0.1), (6.2, -0.05), (6.5, 0.0), (6.8, -0.05),
     (7.1, -0.1), (7.4, 0.05), (7.7, 0.0), (8.0, -0.1), (8.3, 0.1), (8.6, 0.0), (8.9, -0.1), (9.2, -0.05),
     (9.5, -0.05), (9.8, 0.05), (10, 0.05)],
    [(0, 0), (0.2, -0.4), (0.4, -0.45), (0.6, -0.3), (0.8, -0.35), (1.0, -0.2), (1.2, -0.1), (1.4, -0.25),
     (1.6, -0.05), (1.8, 0.1), (2.0, 0.05), (2.2, -0.1), (2.4, -0.05), (2.6, 0.0), (2.8, -0.15),
     (3.0, -0.05), (3.2, -0.2), (3.5, -0.1), (3.8, -0.25), (4.1, -0.15), (4.4, -0.3), (4.7, -0.2),
     (5.0, -0.05), (5.3, 0.1), (5.6, 0.0), (5.9, 0.15), (6.2, 0.1), (6.45, 0.0), (6.8, 0.45), (7.2, 0.5),
     (7.5, 0.6), (7.8, 0.55), (8.1, 0.7), (8.4, 0.72), (8.7, 0.35), (9.0, 0.1), (9.3, 0.0), (9.6, -0.05),
     (9.7, -1.81), (9.8, -1.2), (10, -1.03)],
    [(0, 0), (0.2, 0.05), (0.4, -0.1), (0.6, -0.05), (0.8, -0.2), (1.0, -0.25), (1.2, -0.35), (1.4, -0.3),
     (1.6, -0.45), (1.8, -0.5), (2.0, -0.6), (2.2, -0.55), (2.4, -0.7), (2.6, -0.85), (2.8, -0.9),
     (3.0, -1.0), (3.2, -1.1), (3.5, -1.0), (3.8, -1.2), (4.1, -1.1), (4.4, -1.3), (4.7, -1.25),
     (5.0, -1.4), (5.3, -1.5), (5.6, -1.45), (5.9, -1.6), (6.2, -1.7), (6.45, -1.9), (6.7, -2.2),
     (7.0, -2.35), (7.3, -2.4), (7.6, -2.35), (7.9, -2.2), (8.2, -2.3), (8.5, -2.35), (8.69, -2.36),
     (9.0, -2.45), (9.3, -2.5), (9.6, -2.5), (9.88, -2.58), (10, -1.81)],
    [(0, 0), (0.2, 0.2), (0.4, 0.35), (0.6, 0.3), (0.8, 0.2), (1.0, 0.25), (1.2, 0.1), (1.4, 0.2),
     (1.6, 0.3), (1.8, 0.2), (2.0, 0.35), (2.2, 0.3), (2.4, 0.4), (2.6, 0.3), (2.8, 0.25), (3.0, 0.35),
     (3.3, 0.25), (3.6, 0.4), (3.9, 0.35), (4.14, 0.29), (4.22, -2.14), (4.35, -2.47), (4.6, -2.4),
     (4.9, -2.45), (5.1, -2.6), (5.3, -2.86), (5.6, -2.75), (5.8, -2.7), (6.08, -2.69), (6.34, -1.92),
     (6.6, -1.95), (6.9, -1.8), (7.2, -1.6), (7.46, -1.42), (7.57, -2.58), (7.9, -2.5), (8.2, -2.45),
     (8.5, -2.35), (8.88, -1.86), (8.99, -0.70), (9.18, -0.70), (9.44, -1.86), (9.6, -2.2),
     (9.79, -3.36), (9.88, -2.75), (10, -2.75)],
]
P2_COLORS = ['b', 'g', 'r', 'c', 'm', 'y', 'k', 'b', 'g', 'r',
             'c', 'm', 'y', 'k', 'b', 'g', 'r', 'c', 'm', 'y']

#%% panel 3 : pulsed variance paths, sampled every 0.1
# each run: three start samples, then per cycle two high samples and three low samples
N_SAMPLES = 101
T_GRID = np.linspace(0, 10, N_SAMPLES)

BLUE_START = [1.24, 1.24, 1.25]
BLUE_PEAKS = [(1.47, 1.48), (1.65, 1.67), (1.87, 1.90), (2.17, 2.18), (2.26, 2.30), (2.45, 2.45),
              (2.40, 2.40), (2.56, 2.57), (2.35, 2.34), (2.52, 2.55), (2.68, 2.70), (2.72, 2.78),
              (2.69, 2.69), (2.72, 2.72), (2.81, 2.85), (2.87, 2.88), (2.98, 3.01), (3.11, 3.15),
              (3.20, 3.23), (3.25, 3.25)]
BLUE_TROUGHS = [(1.16, 1.17, 1.18), (1.10, 1.10, 1.11), (1.02, 1.02, 1.03), (0.91, 0.92, 0.92),
                (0.85, 0.85, 0.86), (0.76, 0.76, 0.77), (0.69, 0.69, 0.70), (0.61, 0.62, 0.62),
                (0.54, 0.55, 0.55), (0.47, 0.48, 0.48), (0.41, 0.41, 0.42), (0.35, 0.36, 0.36),
                (0.30, 0.31, 0.31), (0.25, 0.26, 0.26), (0.21, 0.21, 0.22), (0.17, 0.18, 0.18),
                (0.11, 0.12, 0.12), (0.07, 0.07, 0.08), (0.04, 0.04, 0.05), (0.02,)]

BLACK_START = [1.24, 1.24, 1.24]
BLACK_PEAKS = [(1.40, 1.41), (1.42, 1.43), (1.44, 1.44), (1.44, 1.44), (1.43, 1.43), (1.42, 1.42),
               (1.40, 1.40), (1.38, 1.39), (1.37, 1.37), (1.35, 1.35), (1.33, 1.34), (1.31, 1.31),
               (1.29, 1.30), (1.27, 1.27), (1.26, 1.26), (1.22, 1.23), (1.19, 1.19), (1.17, 1.17),
               (1.14, 1.14), (1.11, 1.12)]
BLACK_TROUGHS = [(1.13, 1.13, 1.13), (1.03, 1.03, 1.03), (0.93, 0.93, 0.94), (0.85, 0.85, 0.85),
                 (0.76, 0.76, 0.77), (0.69, 0.69, 0.69), (0.61, 0.61, 0.61), (0.54, 0.54, 0.54),
                 (0.48, 0.48, 0.48), (0.41, 0.41, 0.42), (0.36, 0.36, 0.36), (0.31, 0.31, 0.31),
                 (0.26, 0.26, 0.26), (0.21, 0.21, 0.21), (0.17, 0.17, 0.17), (0.13, 0.13, 0.13),
                 (0.09, 0.09, 0.09), (0.06, 0.06, 0.06), (0.03, 0.03, 0.03), (0.01,)]

RED_START = [1.24, 1.15, 1.07]
RED_PEAKS = [(1.18, 1.11), (0.95, 0.91), (0.81, 0.80), (0.73, 0.71), (0.66, 0.65), (0.59, 0.58),
             (0.55, 0.53), (0.52, 0.51), (0.51, 0.50), (0.46, 0.45), (0.42, 0.41), (0.39, 0.38),
             (0.36, 0.35), (0.33, 0.32), (0.30, 0.29), (0.27, 0.26), (0.22, 0.21), (0.19, 0.18),
             (0.17, 0.16), (0.15, 0.14)]
RED_TROUGHS = [(0.90, 0.86, 0.82), (0.69, 0.68, 0.66), (0.56, 0.54, 0.52), (0.48, 0.47, 0.45),
               (0.36, 0.35, 0.33), (0.39, 0.36, 0.33), (0.34, 0.32, 0.30), (0.25, 0.23, 0.21),
               (0.22, 0.21, 0.20), (0.18, 0.17, 0.15), (0.15, 0.14, 0.13), (0.11, 0.10, 0.09),
               (0.07, 0.06, 0.05), (0.04, 0.03, 0.02), (0.0, -0.02, -0.04), (-0.05, -0.07, -0.06),
               (-0.04, -0.05, -0.04), (-0.02, -0.03, -0.02), (-0.01, -0.01, -0.01), (0.0,)]

P3_START = [
    [1.24, 1.24, 1.25], [1.24, 1.22, 0.85], [1.24, 1.23, 1.22], [1.24, 1.24, 1.23], [1.24, 1.23, 1.22],
    [1.24, 1.23, 1.22], [1.24, 1.24, 1.24], [1.24, 1.24, 1.24], [1.24, 1.24, 1.23], [1.24, 1.20, 1.17],
    [1.24, 1.22, 1.20], [1.24, 1.23, 1.22], [1.24, 1.24, 1.24], [1.24, 1.24, 1.24], [1.24, 1.22, 1.21],
    [1.24, 1.24, 1.24], [1.24, 1.23, 1.23], [1.24, 1.23, 1.22], [1.24, 1.23, 1.21], [1.24, 1.24, 1.23],
]
P3_PEAKS = [
    [1.45, 1.50, 1.55, 1.47, 1.58, 1.50, 2.20, 1.72, 1.55, 1.78, 1.45, 1.40, 1.55, 1.35, 1.68, 1.62, 1.58, 1.55, 1.35, 1.30],
    [1.40, 1.61, 1.60, 1.85, 1.72, 1.80, 1.87, 1.72, 1.62, 1.85, 1.86, 1.70, 2.42, 1.88, 1.70, 2.01, 2.05, 1.95, 1.97, 2.36],
    [1.38, 1.52, 1.48, 1.60, 1.45, 1.48, 1.55, 1.42, 1.45, 1.62, 1.80, 2.00, 1.55, 1.62, 1.62, 2.03, 2.12, 2.10, 1.75, 1.50],
    [1.44, 1.48, 1.83, 1.92, 1.90, 1.88, 1.60, 1.90, 1.80, 1.75, 1.68, 1.82, 1.65, 1.76, 1.68, 1.80, 1.82, 1.65, 1.40, 1.12],
    [1.36, 1.27, 1.40, 1.30, 1.37, 1.45, 1.35, 1.30, 1.25, 1.20, 1.15, 1.05, 0.95, 0.85, 0.82, 0.80, 0.78, 0.75, 0.80, 0.70],
    [1.36, 1.15, 1.20, 1.12, 1.15, 1.88, 1.00, 1.10, 1.15, 1.00, 0.95, 0.90, 0.85, 0.78, 0.75, 0.72, 0.70, 0.68, 0.65, 0.55],
    [1.39, 1.45, 1.55, 1.28, 1.00, 1.62, 1.95, 2.05, 2.10, 2.04, 2.16, 2.04, 1.70, 1.60, 1.45, 1.35, 1.48, 1.58, 1.28, 1.25],
    [1.37, 1.40, 1.45, 1.36, 1.22, 1.50, 1.20, 1.40, 1.55, 1.65, 1.40, 1.20, 1.40, 1.18, 1.38, 1.45, 1.40, 1.38, 1.62, 1.20],
    [1.42, 1.55, 1.60, 1.80, 1.65, 1.82, 1.45, 1.60, 1.55, 1.40, 1.10, 0.95, 0.85, 0.72, 0.70, 0.66, 0.62, 0.55, 0.50, 0.45],
    [1.32, 1.33, 1.22, 1.50, 1.30, 1.25, 1.10, 1.05, 1.00, 0.95, 0.92, 0.88, 0.82, 0.78, 0.72, 0.65, 0.60, 0.55, 0.50, 0.40],
    [1.35, 1.38, 1.00, 0.95, 0.97, 0.90, 1.00, 0.95, 0.90, 0.85, 0.80, 0.75, 0.78, 0.80, 0.72, 0.68, 0.62, 0.55, 0.60, 0.45],
    [1.38, 1.30, 1.20, 0.24, 0.25, 0.26, 0.26, 0.25, 0.26, 0.25, 0.27, 0.26, 0.27, 0.28, 0.25, 0.22, 0.20, 0.18, 0.15, 0.14],
    [1.37, 1.50, 1.73, 1.80, 2.03, 1.88, 1.30, 1.35, 1.40, 1.25, 1.30, 1.35, 1.45, 1.60, 1.70, 1.55, 1.65,
     (1.60, 1.68), (3.10, 3.10), (3.06, 2.40)],
    [1.40, 1.50, 1.58, 1.30, 1.28, 1.58, 1.70, 1.62, 2.14, 2.06, 1.95, 1.85, 1.50, 1.62, 1.55, 1.60, 1.70, 1.80, 1.30, 1.45],
    [1.33, 1.48, 1.24, 1.62, 1.25, 1.10, 1.28, 1.20, 1.15, 1.45, 1.50, 1.25, 1.10, 0.96, 0.90, 0.95, 1.25, 1.45, 1.35, 0.90],
    [1.42, 1.40, 1.55, 1.36, 1.88, 1.45, 1.50, 1.60, 1.62, 1.58, 1.40, 1.55, 1.30, 1.55, 1.50, 1.60, 1.56, 1.35, 1.25, 1.00],
    [1.35, 1.32, 1.38, 1.28, 1.35, 1.38, 1.30, 1.25, 1.20, 1.35, 1.10, 1.05, 1.00, 0.88, 0.90, 0.95, 0.90, 0.88, 0.70, 0.55],
    [1.38, 1.45, 1.52, 1.15, 1.10, 1.65, 1.50, 1.20, 1.25, 1.05, 0.95, 1.10, 1.00, 1.10, 1.00, 1.15, 1.00, 0.95, 0.85, 0.68],
    [1.36, 1.42, 1.30, 1.20, 1.05, 1.00, 0.85, 0.80, 0.75, 0.70, 0.65, 0.60, 0.55, 0.52, 0.48, 0.45, 0.42, 0.38, 0.35, 0.30],
    [1.38, 1.45, 1.40, 1.38, 1.20, 1.15, 1.05, 0.95, 0.90, 0.80, 0.72, 0.68, 0.62, 0.58, 0.55, 0.50, 0.48, 0.45, 0.40, 0.35],
]
P3_TROUGHS = [
    [1.15, 1.08, 1.00, 0.90, 0.83, 0.74, 0.66, 0.60, 0.52, 0.46, 0.40, 0.33, 0.29, 0.23, 0.19, 0.14, 0.10, 0.06, 0.03, 0.02],
    [1.14, 1.05, 0.96, 0.86, 0.78, 0.70, 0.62, 0.55, 0.49, 0.43, 0.37, 0.32, 0.27, 0.22, 0.17, 0.13, 0.09, 0.05, 0.02, 0.01],
    [1.12, 1.02, 0.92, 0.84, 0.75, 0.67, 0.60, 0.52, 0.46, 0.40, 0.34, 0.29, 0.24, 0.19, 0.15, 0.11, 0.07, 0.04, 0.01, 0.0],
    [1.14, 1.04, 0.95, 0.87, 0.77, 0.70, 0.62, 0.56, 0.49, 0.42, 0.37, 0.32, 0.27, 0.22, 0.18, 0.14, 0.10, 0.06, 0.03, 0.02],
    [1.05, 1.00, 0.92, 0.83, 0.74, 0.66, 0.58, 0.51, 0.45, 0.39, 0.33, 0.28, 0.23, 0.18, 0.14, 0.10, 0.07, 0.04, 0.02, 0.01],
    [1.02, 0.98, 0.92, 0.83, 0.68, 0.68, 0.60, 0.52, 0.46, 0.40, 0.34, 0.28, 0.22, 0.18, 0.14, 0.10, 0.06, 0.04, 0.02, 0.01],
    [1.12, 1.01, 0.93, 0.82, 0.76, 0.68, 0.60, 0.53, 0.47, 0.40, 0.35, 0.30, 0.25, 0.20, 0.16, 0.12, 0.08, 0.05, 0.02, 0.01],
    [1.13, 1.04, 0.95, 0.86, 0.77, 0.70, 0.63, 0.55, 0.49, 0.42, 0.37, 0.31, 0.26, 0.21, 0.17, 0.13, 0.09, 0.05, 0.02, 0.01],
    [1.12, 1.03, 0.94, 0.84, 0.76, 0.42, 0.45, 0.44, 0.40, 0.36, 0.31, 0.27, 0.22, 0.18, 0.14, 0.10, 0.07, 0.04, 0.02, 0.01],
    [1.10, 1.00, 0.91, 0.82, 0.74, 0.66, 0.58, 0.51, 0.44, 0.38, 0.33, 0.27, 0.22, 0.17, 0.13, 0.09, 0.06, 0.03, 0.01, 0.0],
    [1.12, 0.88, 0.80, 0.76, 0.70, 0.65, 0.57, 0.50, 0.44, 0.38, 0.32, 0.27, 0.21, 0.17, 0.13, 0.09, 0.06, 0.03, 0.01, 0.0],
    [1.08, 1.00, (0.94, 0.93, 0.23), 0.22, 0.22, 0.23, 0.22, 0.22, 0.21, 0.21, 0.20, 0.19, 0.18, 0.16, 0.13,
     0.10, 0.08, 0.06, 0.04, 0.03],
    [1.14, 1.05, 0.95, 0.86, 0.78, 0.70, 0.62, 0.55, 0.48, 0.42, 0.36, 0.30, 0.25, 0.20, 0.16, 0.12, 0.08,
     (3.33, 0.12, 0.08), (3.25, 0.06, 0.03), 0.01],
    [1.13, 1.02, 0.94, 0.85, 0.75, 0.68, 0.60, 0.53, 0.47, 0.41, 0.35, 0.30, 0.25, 0.20, 0.16, 0.12, 0.08, 0.05, 0.02, 0.01],
    [1.10, 1.01, 0.92, 0.84, 0.74, 0.66, 0.58, 0.52, 0.45, 0.39, 0.33, 0.28, 0.23, 0.18, 0.14, 0.10, 0.06, 0.03, 0.01, 0.0],
    [1.14, 1.05, 0.96, 0.86, 0.77, 0.69, 0.61, 0.54, 0.48, 0.42, 0.36, 0.31, 0.26, 0.21, 0.17, 0.13, 0.09, 0.06, 0.03, 0.02],
    [1.12, 1.02, 0.93, 0.84, 0.75, 0.67, 0.60, 0.53, 0.46, 0.40, 0.34, 0.29, 0.24, 0.19, 0.15, 0.11, 0.07, 0.04, 0.02, 0.01],
    [1.12, 1.01, 0.92, 0.83, 0.74, 0.67, 0.59, 0.52, 0.46, 0.40, 0.34, 0.29, 0.24, 0.19, 0.15, 0.11, 0.07, 0.04, 0.02, 0.0],
    [1.10, 1.00, 0.90, 0.82, 0.73, 0.65, 0.57, 0.50, 0.43, 0.37, 0.32, 0.26, 0.21, 0.16, 0.12, 0.08, 0.05, 0.02, 0.0, 0.0],
    [1.12, 1.02, 0.93, 0.84, 0.75, 0.67, 0.59, 0.52, 0.46, 0.40, 0.34, 0.28, 0.23, 0.18, 0.14, 0.10, 0.06, 0.03, 0.01, 0.0],
]
P3_COLORS = ['b', 'g', 'r', 'c', 'm', 'y', 'k', 'b', 'g', 'r',
             'c', 'm', 'y', 'k', 'b', 'g', 'r', 'c', 'm', 'y']


def pulse_series(start, peaks, troughs):
    # unroll the per-cycle highs and lows onto the 0.1 sample grid
    vals = list(start)
    for p, t in zip(peaks, troughs):
        vals.extend(p if isinstance(p, tuple) else (p, p))
        vals.extend(t if isinstance(t, tuple) else (t, t, t))
    return vals[:N_SAMPLES]


def plot_path(ax, pts, color, lw, scale=1.0):
    xs = [p[0] for p in pts]
    ys = [p[1] * scale for p in pts]
    ax.plot(xs, ys, color=color, lw=lw, solid_joinstyle='miter')


def tick_fmt(v, pos):
    return '%g' % (round(v, 6) + 0.0)


def style_axes(ax, ylo, yhi, ystep):
    ax.set_xlim(0, 10)
    ax.set_ylim(ylo, yhi)
    ax.xaxis.set_major_locator(MultipleLocator(1))
    ax.yaxis.set_major_locator(MultipleLocator(ystep))
    ax.xaxis.set_major_formatter(FuncFormatter(tick_fmt))
    ax.yaxis.set_major_formatter(FuncFormatter(tick_fmt))
    ax.tick_params(direction='in', length=4.5, width=0.6, top=True, right=True,
                   labelsize=7.5, colors='#3a3a3a', pad=3)
    for s in ax.spines.values():
        s.set_color('#3a3a3a')
        s.set_linewidth(0.7)


THIN = 0.7

fig = plt.figure(figsize=(9.4, 14.92), dpi=100)
ax1 = fig.add_axes([0.0457, 0.7084, 0.9511, 0.2828])
ax2 = fig.add_axes([0.0457, 0.3586, 0.9511, 0.2828])
ax3 = fig.add_axes([0.0457, 0.0100, 0.9511, 0.2828])

# top: short rate
for pts, c in zip(P1_PATHS, P1_COLORS):
    plot_path(ax1, pts, MATLAB[c], THIN, RATE_SCALE)
for pts in (P1_UPPER, P1_MEAN, P1_LOWER):
    plot_path(ax1, pts, 'black', 1.9, RATE_SCALE)
style_axes(ax1, 0.005, 0.055, 0.005)

# middle: jump paths
for pts, c in zip(P2_PATHS, P2_COLORS):
    plot_path(ax2, pts, MATLAB[c], THIN)
for pts in (P2_UPPER, P2_MEAN, P2_LOWER):
    plot_path(ax2, pts, 'black', 1.9)
style_axes(ax2, -10, 4, 2)

# bottom: pulsed paths with max / mean / min
for s, p, t, c in zip(P3_START, P3_PEAKS, P3_TROUGHS, P3_COLORS):
    ax3.plot(T_GRID, pulse_series(s, p, t), color=MATLAB[c], lw=THIN)
ax3.plot(T_GRID, pulse_series(BLUE_START, BLUE_PEAKS, BLUE_TROUGHS), color='blue', lw=2.2)
ax3.plot(T_GRID, pulse_series(RED_START, RED_PEAKS, RED_TROUGHS), color='red', lw=2.2)
ax3.plot(T_GRID, pulse_series(BLACK_START, BLACK_PEAKS, BLACK_TROUGHS), color='black', lw=2.6)
style_axes(ax3, -0.5, 3.5, 0.5)

fig.savefig('out.png', dpi=100)
